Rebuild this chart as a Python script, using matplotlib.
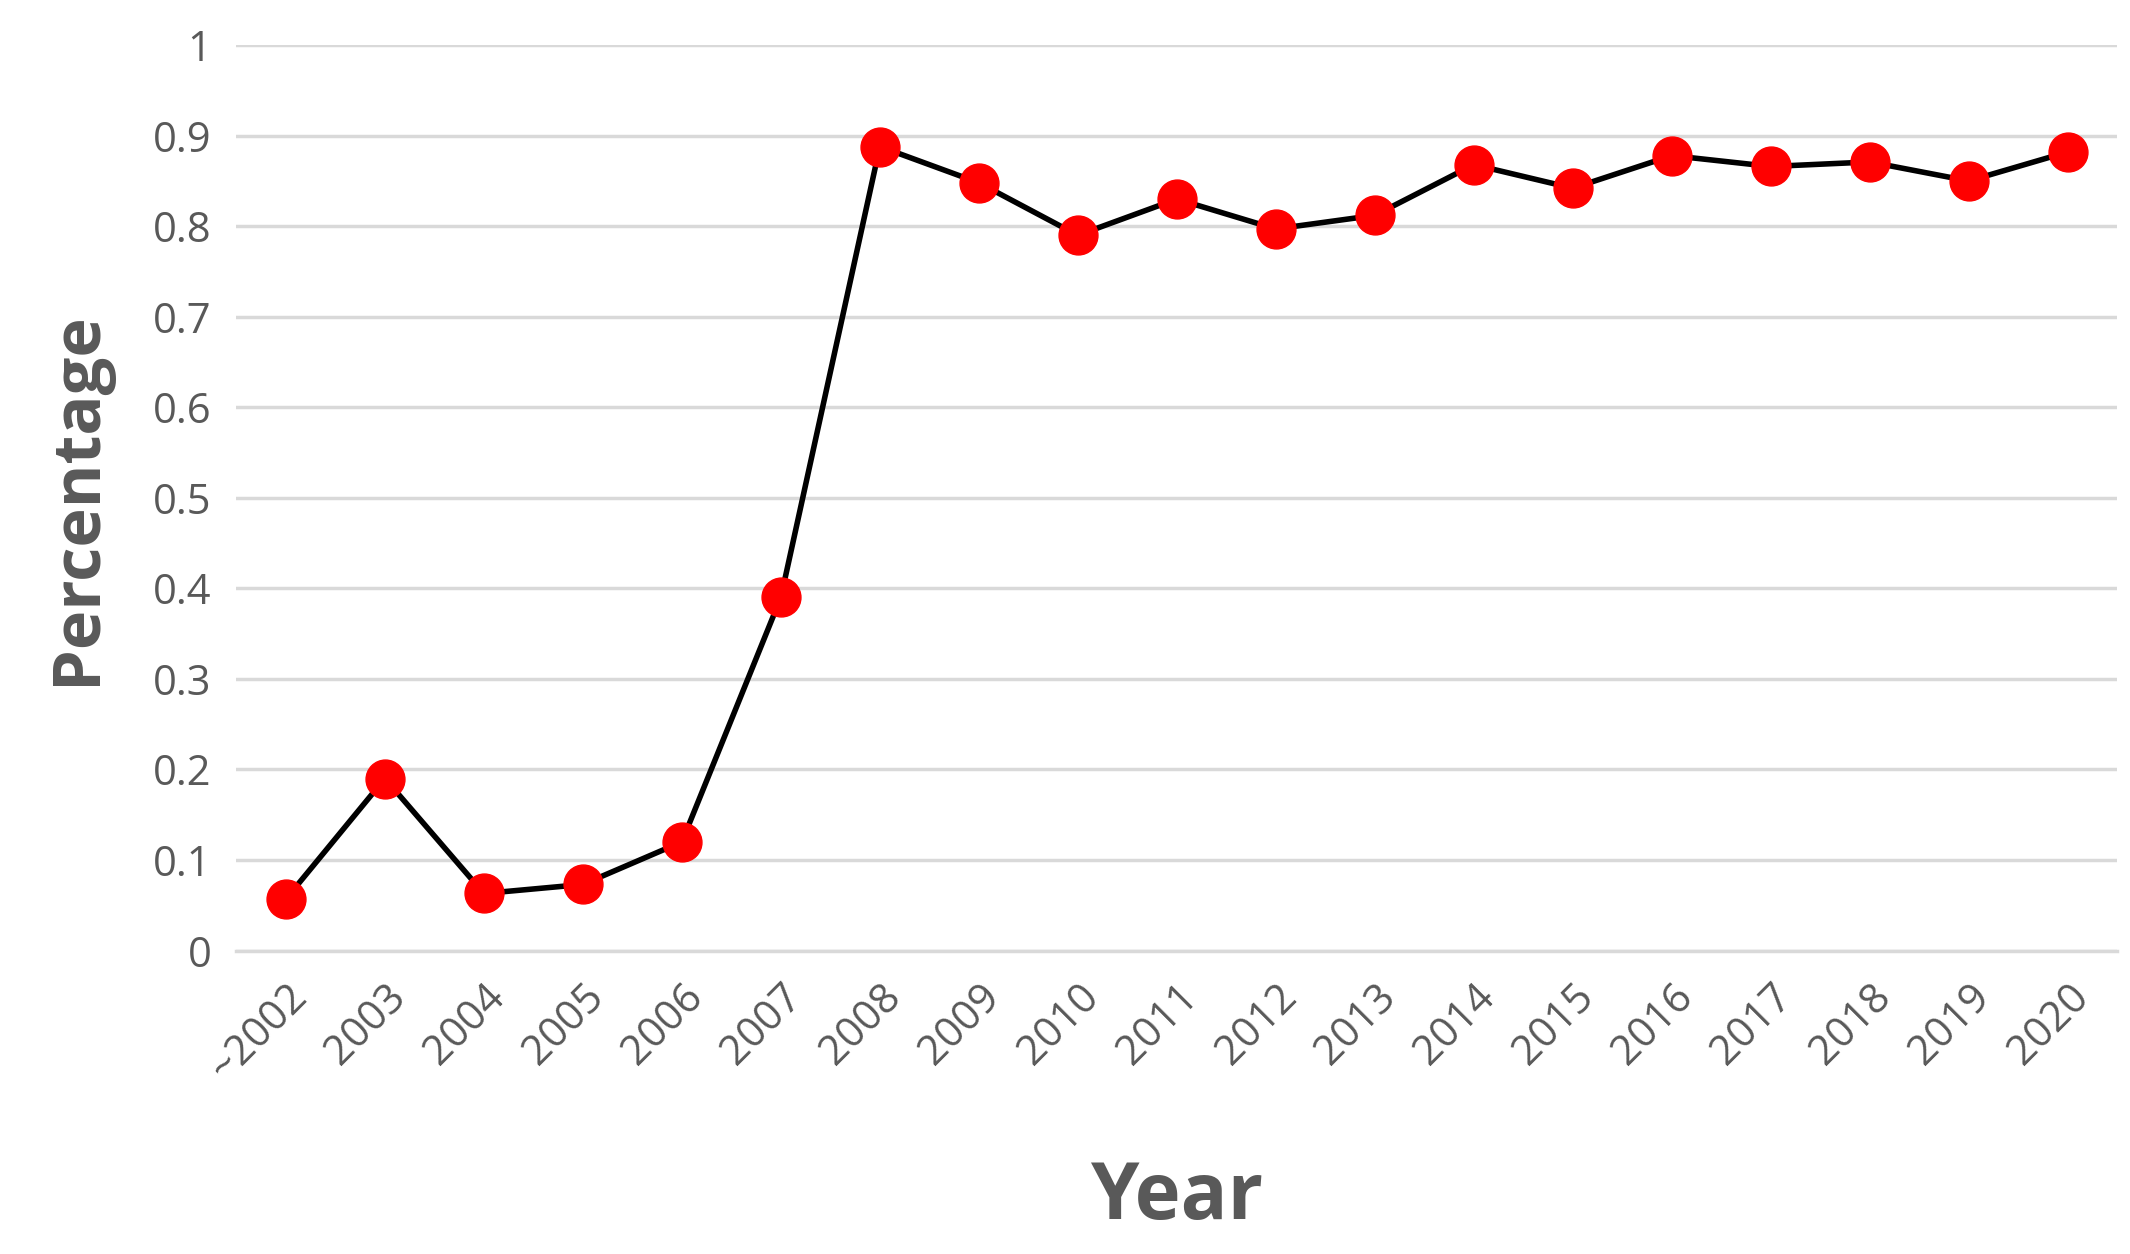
import matplotlib
matplotlib.use("Agg")
import matplotlib.pyplot as plt

years = ["~2002","2003","2004","2005","2006","2007","2008","2009","2010","2011",
         "2012","2013","2014","2015","2016","2017","2018","2019","2020"]
values = [0.057,0.19,0.063,0.073,0.12,0.39,0.888,0.848,0.79,0.83,
          0.797,0.812,0.868,0.842,0.878,0.866,0.871,0.85,0.882]
yticks = [0,0.1,0.2,0.3,0.4,0.5,0.6,0.7,0.8,0.9,1]
ytick_labels = ["0","0.1","0.2","0.3","0.4","0.5","0.6","0.7","0.8","0.9","1"]

plt.rcParams['font.family'] = ['Open Sans', 'DejaVu Sans']
fig = plt.figure(figsize=(21.3,12.54), dpi=100)
ax = fig.add_axes([0.111,0.242,0.883,0.722])
x = list(range(len(years)))
ax.plot(x, values, color="black", lw=4, marker="o", markersize=28,
        markerfacecolor="#ff0000", markeredgecolor="#ff0000", zorder=3)
ax.set_xlim(-0.5, len(years)-0.5)
ax.set_ylim(0,1)
ax.set_yticks(yticks)
ax.set_yticklabels(ytick_labels)
ax.set_xticks(x)
ax.set_xticklabels(years, rotation=45, ha="right", rotation_mode="anchor")
ax.grid(axis="y", color="#d9d9d9", lw=2.5)
ax.set_axisbelow(True)
for s in ["top","right","left"]:
    ax.spines[s].set_visible(False)
ax.spines["bottom"].set_color("#d9d9d9")
ax.spines["bottom"].set_linewidth(2.5)
ax.tick_params(length=0, labelsize=30, colors="#595959", pad=18)
ax.set_ylabel("Percentage", fontsize=48, fontweight="bold", color="#595959", labelpad=30)
ax.set_xlabel("Year", fontsize=56, fontweight="bold", color="#595959", labelpad=50)
fig.savefig("out.png", dpi=100, facecolor="white")
